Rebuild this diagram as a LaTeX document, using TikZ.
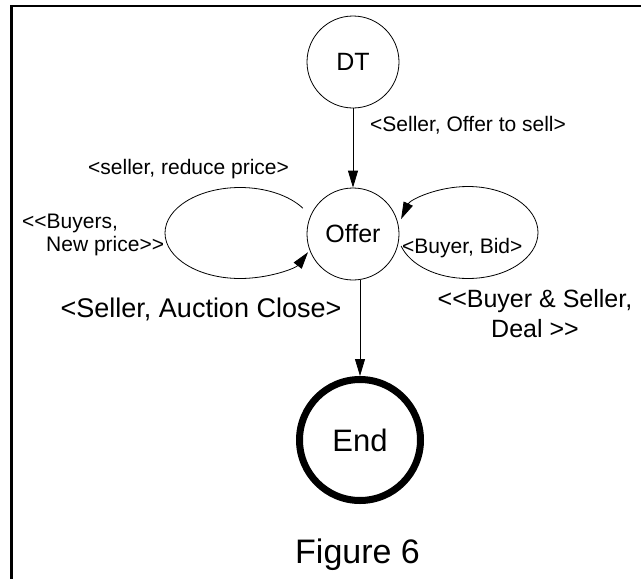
\documentclass[tikz,border=0pt]{standalone}
\usepackage{fontspec}
\setmainfont{Liberation Sans}
\usetikzlibrary{arrows.meta}
% double angle brackets kept as two separate characters
\newcommand\dlt{<\kern0pt<}
\newcommand\dgt{>\kern0pt>}
\begin{document}
\begin{tikzpicture}[x=1pt,y=-1pt,
  state/.style={draw,circle,line width=0.8pt,inner sep=0pt,minimum size=92pt,
                font=\fontsize{25}{30}\selectfont},
  final/.style={draw,circle,line width=7pt,inner sep=0pt,minimum size=121pt,
                font=\fontsize{31}{36}\selectfont},
  edge/.style={line width=0.8pt},
  arr/.style={edge,-{Triangle[length=17pt,width=10pt]}},
  lbl/.style={inner sep=0pt,font=\fontsize{21}{23}\selectfont},
  biglbl/.style={inner sep=0pt,font=\fontsize{25}{30}\selectfont}]
\useasboundingbox (0,0) rectangle (641,579);
\fill[white] (0,0) rectangle (641,579);

% frame
\draw[line width=2.7pt,line join=miter] (11.5,579) -- (11.5,6) -- (641,6);

% states
\node[state] (DT) at (353,62) {DT};
\node[state] (Offer) at (353,234) {Offer};
\node[final] (End) at (360,440) {End};

% transitions
\draw[arr] (DT) -- (Offer);
\draw[arr] (Offer.south -| End.north) -- (End.north);

% loop on the left of Offer
\coordinate (lA) at (302.9,208.2);
\coordinate (lT) at (240,187.5);
\coordinate (lL) at (165,233);
\coordinate (lB) at (240,278.5);
\coordinate (lE) at (308,252.2);
\draw[arr] (lA) .. controls (289.1,195.3) and (265.4,187.5) .. (lT)
  .. controls (198.6,187.5) and (165,207.9) .. (lL)
  .. controls (165,258.1) and (198.6,278.5) .. (lB)
  .. controls (269.2,278.5) and (295.7,268.2) .. (lE);

% loop on the right of Offer
\coordinate (rA) at (401.1,245.95);
\coordinate (rB) at (468,278.5);
\coordinate (rR) at (538,232.5);
\coordinate (rT) at (468,186.5);
\coordinate (rE) at (401.1,219.05);
\draw[arr] (rA) .. controls (410.1,265.3) and (437.2,278.5) .. (rB)
  .. controls (506.7,278.5) and (538,257.9) .. (rR)
  .. controls (538,207.1) and (506.7,186.5) .. (rT)
  .. controls (437.2,186.5) and (410.1,199.7) .. (rE);

% labels
\node[lbl,anchor=base west] (l1) at (370,131) {<Seller, Offer to sell>};
\node[lbl,anchor=base west] (l2) at (88,174) {<seller, reduce price>};
\node[lbl,anchor=north west,align=left] (l3) at (22,214)
  {\dlt Buyers,\\\hspace*{24pt}New price\dgt};
\node[lbl,anchor=base west] (l4) at (402,253) {<Buyer, Bid>};
\node[biglbl,anchor=north,align=center] (l5) at (535,289)
  {\dlt Buyer \& Seller,\\Deal \dgt};
\node[inner sep=0pt,anchor=base west,font=\fontsize{27}{32}\selectfont] (l6)
  at (60.5,317) {<Seller, Auction Close>};
\node[inner sep=0pt,anchor=base west,font=\fontsize{34}{40}\selectfont] (cap)
  at (295,563) {Figure 6};
\end{tikzpicture}
\end{document}
